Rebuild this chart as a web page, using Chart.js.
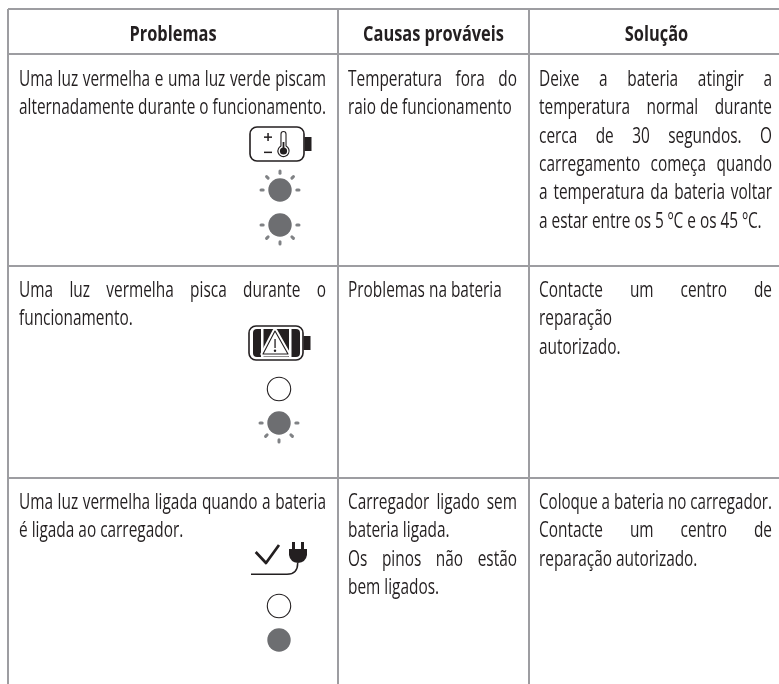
<!DOCTYPE html>
<html lang="pt">
<head>
<meta charset="utf-8">
<title>Problemas, causas e solução</title>
<script src="https://cdn.jsdelivr.net/npm/chart.js@4"></script>
<style>
    html, body { margin: 0; padding: 0; background: #fff; }
    canvas { display: block; }
</style>
</head>
<body>
<canvas id="tabela" width="779" height="684"></canvas>
<script>
// --- Data ---

const headers = ['Problemas', 'Causas prováveis', 'Solução'];

const problemas = [
    ['Uma luz vermelha e uma luz verde piscam', 'alternadamente durante o funcionamento.'],
    ['Uma luz vermelha pisca durante o', 'funcionamento.'],
    ['Uma luz vermelha ligada quando a bateria', 'é ligada ao carregador.']
];
const causas = [
    ['Temperatura fora do', 'raio de funcionamento'],
    ['Problemas na bateria'],
    ['Carregador ligado sem', 'bateria ligada.', 'Os pinos não estão', 'bem ligados.']
];
const solucoes = [
    ['Deixe a bateria atingir a', 'temperatura normal durante', 'cerca de 30 segundos. O', 'carregamento começa quando', 'a temperatura da bateria voltar', 'a estar entre os 5 ºC e os 45 ºC.'],
    ['Contacte um centro de', 'reparação', 'autorizado.'],
    ['Coloque a bateria no carregador.', 'Contacte um centro de', 'reparação autorizado.']
];

// lines that run the full width of the column
const justified = new Set([
    'Uma luz vermelha e uma luz verde piscam', 'alternadamente durante o funcionamento.',
    'Uma luz vermelha pisca durante o', 'Uma luz vermelha ligada quando a bateria',
    'Temperatura fora do', 'Carregador ligado sem', 'Os pinos não estão',
    'Deixe a bateria atingir a', 'temperatura normal durante', 'cerca de 30 segundos. O',
    'carregamento começa quando', 'a temperatura da bateria voltar',
    'Contacte um centro de', 'Coloque a bateria no carregador.'
]);

const columnEdges = [8, 338, 528.5];
const rowEdges = [9, 54, 266, 478];
const rowBaselines = [86, 297, 509];
const lineStep = 28.3;
const headerBaseline = 41;

const iconX = [277, 276, 280, 280, 279, 279, 279, 279, 279];
const iconY = [144, 343, 190, 225, 389, 423, 560, 606, 640];
const iconKind = ['thermo', 'warning', 'blinkUp', 'blinkDown', 'off', 'blinkDown', 'plug', 'off', 'on'];

// --- Icons ---

const INK = '#231f20';
const GREY = '#6d6e71';
const RAY = '#808285';

function makeIcon(w, h, draw) {
    const c = document.createElement('canvas');
    c.width = w;
    c.height = h;
    const ctx = c.getContext('2d');
    ctx.translate(w / 2, h / 2);
    ctx.lineJoin = 'round';
    draw(ctx);
    return c;
}

function drawLight(ctx, filled) {
    ctx.beginPath();
    ctx.arc(0, 0, 11.7, 0, Math.PI * 2);
    if (filled) {
        ctx.fillStyle = GREY;
        ctx.fill();
    } else {
        ctx.strokeStyle = INK;
        ctx.lineWidth = 1.1;
        ctx.stroke();
    }
}

function drawBlink(ctx, dir) {
    drawLight(ctx, true);
    ctx.strokeStyle = RAY;
    ctx.lineWidth = 3;
    ctx.lineCap = 'round';
    [0, 45, 90, 135, 180].forEach(deg => {
        const a = deg * Math.PI / 180;
        const cx = Math.cos(a), cy = Math.sin(a) * dir;
        ctx.beginPath();
        ctx.moveTo(cx * 16.8, cy * 16.8);
        ctx.lineTo(cx * 19, cy * 19);
        ctx.stroke();
    });
}

function drawBatteryBody(ctx) {
    ctx.strokeStyle = INK;
    ctx.lineWidth = 1.6;
    ctx.beginPath();
    ctx.roundRect(-27, -17, 54, 34, 7);
    ctx.stroke();
    ctx.fillStyle = INK;
    ctx.fillRect(27.5, -7, 7, 14);
}

const icons = {
    off: makeIcon(30, 30, ctx => drawLight(ctx, false)),
    on: makeIcon(30, 30, ctx => drawLight(ctx, true)),
    blinkUp: makeIcon(46, 46, ctx => drawBlink(ctx, -1)),
    blinkDown: makeIcon(46, 46, ctx => drawBlink(ctx, 1)),
    thermo: makeIcon(72, 40, ctx => {
        drawBatteryBody(ctx);
        ctx.fillStyle = INK;
        ctx.fillRect(-13, -7.6, 8, 1.5);
        ctx.fillRect(-9.7, -11, 1.5, 8);
        ctx.fillRect(-13, 7.6, 8, 1.5);
        ctx.lineWidth = 1.1;
        ctx.beginPath();
        ctx.arc(6.5, 7, 5.6, -1.1, Math.PI + 1.1);
        ctx.lineTo(4, -10);
        ctx.arc(6.5, -10, 2.5, Math.PI, 0);
        ctx.closePath();
        ctx.stroke();
        ctx.beginPath();
        ctx.arc(6.5, 7, 3.6, 0, Math.PI * 2);
        ctx.fill();
        ctx.fillRect(5.6, -2, 1.8, 7);
    }),
    warning: makeIcon(72, 40, ctx => {
        drawBatteryBody(ctx);
        ctx.fillStyle = INK;
        ctx.beginPath();
        ctx.roundRect(-23, -14, 47, 28, 4);
        ctx.fill();
        ctx.fillStyle = '#fff';
        ctx.fillRect(-15, -14, 2.5, 28);
        ctx.fillRect(13, -14, 2.5, 28);
        ctx.beginPath();
        ctx.moveTo(-1, -12);
        ctx.lineTo(-13, 11);
        ctx.lineTo(12, 11);
        ctx.closePath();
        ctx.strokeStyle = '#fff';
        ctx.lineWidth = 5;
        ctx.fill();
        ctx.stroke();
        ctx.strokeStyle = INK;
        ctx.lineWidth = 1.1;
        ctx.stroke();
        ctx.fillStyle = INK;
        ctx.fillRect(-1.6, -4, 1.3, 9);
        ctx.beginPath();
        ctx.arc(-1, 7.7, 1.2, 0, Math.PI * 2);
        ctx.fill();
    }),
    plug: makeIcon(72, 44, ctx => {
        ctx.strokeStyle = INK;
        ctx.lineWidth = 2.7;
        ctx.beginPath();
        ctx.moveTo(-23.3, -8);
        ctx.lineTo(-13, 3);
        ctx.lineTo(0, -15);
        ctx.stroke();
        ctx.lineWidth = 1.5;
        ctx.beginPath();
        ctx.moveTo(-28, 14.3);
        ctx.lineTo(8, 14.3);
        ctx.quadraticCurveTo(18.7, 14.3, 18.7, 3);
        ctx.stroke();
        ctx.fillStyle = INK;
        ctx.fillRect(13, -18, 3, 7);
        ctx.fillRect(22, -18, 3, 7);
        ctx.beginPath();
        ctx.moveTo(10, -11);
        ctx.lineTo(28, -11);
        ctx.lineTo(28, -5);
        ctx.quadraticCurveTo(27, 2, 19, 3);
        ctx.quadraticCurveTo(11, 2, 10, -5);
        ctx.closePath();
        ctx.fill();
    })
};

// --- Table text, drawn over the scales ---

const FONT_FAMILY = '"Open Sans", sans-serif';
const BODY_SQUEEZE = 0.7;
const HEADER_SQUEEZE = 0.745;

function drawLine(ctx, text, x, y, squeeze, right) {
    ctx.wordSpacing = '0px';
    const natural = ctx.measureText(text).width;
    let target = natural * squeeze;
    if (right !== undefined) {
        // stretch the word gaps so the line reaches the column edge
        target = right - x;
        const gaps = text.split(' ').length - 1;
        const room = target / squeeze - natural;
        if (room > 0 && gaps > 0) ctx.wordSpacing = (room / gaps) + 'px';
    }
    ctx.fillText(text, x, y, target);
    ctx.wordSpacing = '0px';
}

const tableText = {
    id: 'tableText',
    afterDatasetsDraw(chart) {
        const { ctx, scales: { x, y } } = chart;
        const textStart = [19, 348, 539];
        const textEnd = [326, 517, 772];
        const headerCenter = [173, 433.5, 656.5];

        ctx.save();
        ctx.fillStyle = INK;
        ctx.textBaseline = 'alphabetic';
        ctx.textAlign = 'left';

        ctx.font = 'bold 22px ' + FONT_FAMILY;
        headers.forEach((h, i) => {
            const w = ctx.measureText(h).width * HEADER_SQUEEZE;
            drawLine(ctx, h, x.getPixelForValue(headerCenter[i]) - w / 2, y.getPixelForValue(headerBaseline), HEADER_SQUEEZE);
        });

        ctx.font = '500 22px ' + FONT_FAMILY;
        [problemas, causas, solucoes].forEach((column, c) => {
            const left = x.getPixelForValue(textStart[c]);
            const right = x.getPixelForValue(textEnd[c]);
            column.forEach((lines, r) => {
                lines.forEach((line, l) => {
                    const py = y.getPixelForValue(rowBaselines[r] + l * lineStep);
                    drawLine(ctx, line, left, py, BODY_SQUEEZE, justified.has(line) ? right : undefined);
                });
            });
        });
        ctx.restore();
    }
};

// --- Chart ---

new Chart(document.getElementById('tabela'), {
    type: 'scatter',
    data: {
        datasets: [{
            label: 'Indicadores',
            data: iconX.map((v, i) => ({ x: v, y: iconY[i] })),
            pointStyle: ctx => icons[iconKind[ctx.dataIndex]],
            pointRadius: 10,
            pointHoverRadius: 10
        }]
    },
    plugins: [tableText],
    options: {
        responsive: false,
        animation: false,
        layout: { autoPadding: false, padding: { left: 8, top: 9, right: 0, bottom: 0 } },
        plugins: {
            legend: { display: false },
            title: { display: false },
            tooltip: { enabled: false }
        },
        scales: {
            x: {
                type: 'linear',
                min: 8,
                max: 779,
                afterBuildTicks: axis => { axis.ticks = columnEdges.map(value => ({ value })); },
                ticks: { display: false },
                border: { display: false },
                grid: { color: '#9d9da1', lineWidth: 2, drawTicks: false }
            },
            y: {
                type: 'linear',
                reverse: true,
                min: 9,
                max: 684,
                afterBuildTicks: axis => { axis.ticks = rowEdges.map(value => ({ value })); },
                ticks: { display: false },
                border: { display: false },
                grid: { color: '#9d9da1', lineWidth: 2, drawTicks: false }
            }
        }
    }
});
</script>
</body>
</html>
